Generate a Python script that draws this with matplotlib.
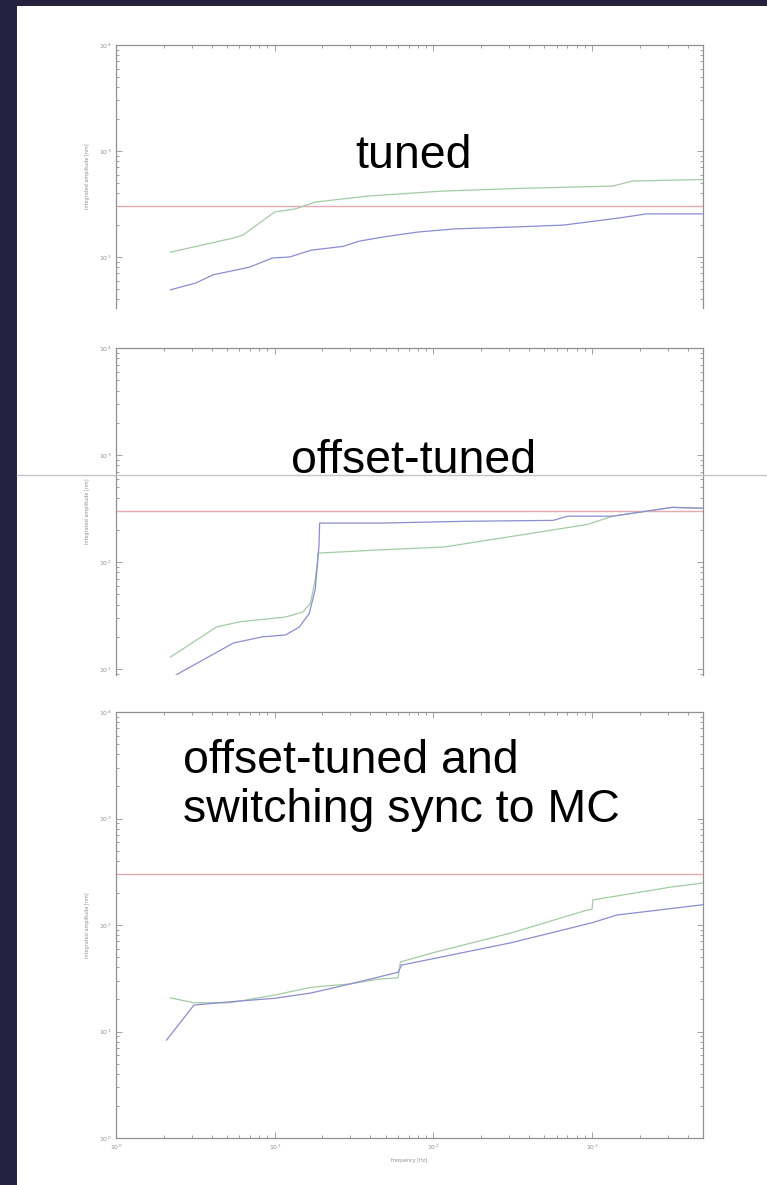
import numpy as np
import matplotlib
matplotlib.use("Agg")
from matplotlib import pyplot as plt
from matplotlib.lines import Line2D
from matplotlib.patches import Rectangle
from matplotlib.ticker import LogLocator, LogFormatterMathtext, NullFormatter

# threshold (red line) shared by all panels
limit = 300

# panel 1: tuned
tuned_f_green = [2.2, 5.5, 6.3, 10, 13.5, 18, 39, 112, 370, 1350, 1800, 5000]
tuned_green = [111, 151, 161, 266, 284, 330, 376, 418, 445, 467, 521, 538]
tuned_f_blue = [2.2, 3.2, 4.1, 6.9, 9.7, 12.4, 17, 27, 34, 49, 80, 135, 295, 660, 1500, 2200, 5000]
tuned_blue = [49, 57, 68, 80, 98, 100, 116, 126, 141, 155, 172, 184, 191, 200, 234, 255, 255]

# panel 2: offset-tuned
off_f_green = [2.2, 4.3, 6, 11.7, 15, 16.8, 18, 18.6, 18.7, 47, 117, 930, 1350, 3200, 5000]
off_green = [12.9, 24.7, 27.6, 30.6, 34, 41, 68, 100, 121, 130, 138, 224, 268, 324, 318]
off_f_blue = [2.0, 2.55, 5.5, 8.4, 11.7, 14.3, 16.5, 18, 19, 19.2, 47, 156, 570, 700, 1350, 3200, 5000]
off_blue = [7.5, 9.3, 17.5, 20, 20.8, 24.7, 33, 55, 140, 231, 231, 240, 245, 268, 268, 324, 318]

# panel 3: offset-tuned and switching sync to MC
sync_f_green = [2.2, 3.1, 5.2, 10, 17, 30, 45, 60, 62, 100, 307, 930, 1000, 1010, 3200, 5000]
sync_green = [20.7, 18.6, 18.6, 22, 26, 28, 31, 32, 45, 55, 84, 138, 140, 172, 228, 248]
sync_f_blue = [2.08, 3.1, 5.2, 10, 17, 30, 60, 63, 307, 1000, 1430, 5000]
sync_blue = [8.3, 17.7, 19, 20.5, 23, 28, 36, 42, 68, 105, 124, 155]

navy = '#25223f'
red = '#eaa8b0'
green = '#a3cca3'
blue = '#8c8cd4'
gray = '#909090'

fig = plt.figure(figsize=(7.67, 11.85), dpi=100)
fig.patch.set_facecolor(navy)
W, H = 767.0, 1185.0
fig.patches.append(Rectangle((17 / W, 0), 1 - 17 / W, 1 - 6 / H, transform=fig.transFigure,
                             facecolor='white', edgecolor='none', zorder=-5))


def px_axes(top, bottom):
    return fig.add_axes([116 / W, 1 - bottom / H, 587 / W, (bottom - top) / H])


def style(ax, ymin, xlabels=False, bottom_spine=True):
    ax.set_xscale('log')
    ax.set_yscale('log')
    ax.set_xlim(1, 5000)
    ax.set_ylim(ymin, 1e4)
    for s in ax.spines.values():
        s.set_color(gray)
        s.set_linewidth(0.9)
    ax.spines['bottom'].set_visible(bottom_spine)
    ax.xaxis.set_major_locator(LogLocator(base=10, numticks=10))
    ax.xaxis.set_minor_locator(LogLocator(base=10, subs=np.arange(2, 10), numticks=10))
    ax.yaxis.set_major_locator(LogLocator(base=10, numticks=10))
    ax.yaxis.set_minor_locator(LogLocator(base=10, subs=np.arange(2, 10), numticks=10))
    ax.yaxis.set_major_formatter(LogFormatterMathtext())
    ax.yaxis.set_minor_formatter(NullFormatter())
    ax.xaxis.set_minor_formatter(NullFormatter())
    if xlabels:
        ax.xaxis.set_major_formatter(LogFormatterMathtext())
    else:
        ax.xaxis.set_major_formatter(NullFormatter())
    ax.tick_params(which='both', direction='in', top=True, right=True,
                   bottom=bottom_spine, colors=gray, labelsize=4.5, width=0.6)
    ax.tick_params(which='major', length=4)
    ax.tick_params(which='minor', length=2)
    ax.set_ylabel('integrated amplitude [nm]', fontsize=3.5, color=gray, labelpad=6)


# panel 1
ax1 = px_axes(45, 308)
ax1.axhline(limit, color=red, lw=1)
ax1.plot(tuned_f_green, tuned_green, color=green, lw=0.9)
ax1.plot(tuned_f_blue, tuned_blue, color=blue, lw=0.9)
style(ax1, 10 ** (4 - 263 / 106.0), bottom_spine=False)

# panel 2
ax2 = px_axes(348, 675)
ax2.axhline(limit, color=red, lw=1)
ax2.plot(off_f_green, off_green, color=green, lw=0.9)
ax2.plot(off_f_blue, off_blue, color=blue, lw=0.9)
style(ax2, 10 ** (4 - 327 / 107.0), bottom_spine=False)

# panel 3
ax3 = px_axes(712, 1138)
ax3.axhline(limit, color=red, lw=1)
ax3.plot(sync_f_green, sync_green, color=green, lw=0.9)
ax3.plot(sync_f_blue, sync_blue, color=blue, lw=0.9)
style(ax3, 1, xlabels=True)
ax3.set_xlabel('frequency [Hz]', fontsize=3.5, color=gray, labelpad=4)

# seam where the pasted lower half of panel 2 starts
fig.lines.append(Line2D([17 / W, 1], [1 - 475 / H, 1 - 475 / H], transform=fig.transFigure,
                        color='#c4c4c4', lw=1, zorder=5))

font = dict(family=['Liberation Sans', 'DejaVu Sans'], fontsize=33.5, color='black', zorder=6)
fig.text(414 / W, 1 - 168 / H, 'tuned', ha='center', va='baseline', **font)
fig.text(414 / W, 1 - 473 / H, 'offset-tuned', ha='center', va='baseline', **font)
fig.text(183 / W, 1 - 773 / H, 'offset-tuned and', ha='left', va='baseline', **font)
fig.text(183 / W, 1 - 822 / H, 'switching sync to MC', ha='left', va='baseline', **font)

fig.savefig('out.png', dpi=100, facecolor=fig.get_facecolor())
